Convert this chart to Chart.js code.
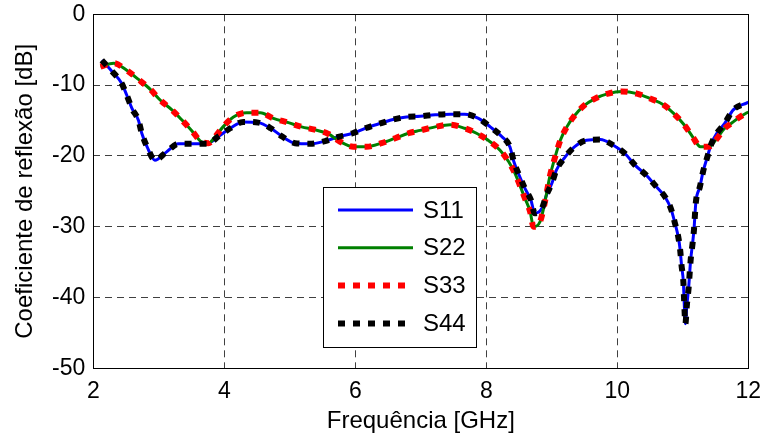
<!DOCTYPE html>
<html>
<head>
<meta charset="utf-8">
<script src="https://cdn.jsdelivr.net/npm/chart.js@4/dist/chart.umd.min.js"></script>
<style>
  html, body { margin: 0; padding: 0; background: #fff; }
</style>
</head>
<body>
<canvas id="myChart" width="763" height="440"></canvas>
<script>
// S11 / S44 curve (they overlap)
const freq11 = [2.13, 2.28, 2.43, 2.51, 2.59, 2.69, 2.74, 2.82, 2.94, 3.11, 3.30, 3.52, 3.73, 3.92, 4.09, 4.29,
  4.52, 4.71, 4.89, 5.08, 5.31, 5.54, 5.74, 5.96, 6.15, 6.35, 6.56, 6.78, 6.99, 7.22, 7.45, 7.67, 7.88,
  8.06, 8.24, 8.36, 8.42, 8.50, 8.59, 8.68, 8.74, 8.85, 8.92, 9.00, 9.07, 9.20, 9.35, 9.53, 9.74, 9.94,
  10.12, 10.27, 10.45, 10.60, 10.73, 10.82, 10.88, 10.93, 10.96, 10.98, 11.01, 11.02, 11.04, 11.06, 11.09,
  11.12, 11.15, 11.17, 11.20, 11.26, 11.31, 11.36, 11.44, 11.52, 11.64, 11.77, 11.98, 12.0];
const s11 = [-6.5, -8.0, -9.7, -11.4, -13.3, -15.0, -16.8, -18.7, -20.6, -19.5, -18.3, -18.3, -18.3, -17.2, -16.1, -15.2,
  -15.3, -16.1, -17.3, -18.2, -18.3, -17.9, -17.3, -16.8, -16.1, -15.5, -14.9, -14.5, -14.4, -14.2, -14.1, -14.1, -14.7,
  -15.9, -17.3, -18.7, -20.8, -22.7, -24.6, -26.2, -28.1, -27.4, -25.5, -23.9, -22.0, -20.2, -18.7, -17.8, -17.7, -18.5,
  -19.7, -21.3, -22.8, -24.4, -25.8, -27.5, -29.5, -31.4, -33.3, -35.4, -38.0, -40.4, -43.7, -41.3, -38.5,
  -34.7, -32.3, -30.5, -26.5, -24.4, -22.2, -20.6, -18.2, -16.8, -15.4, -13.5, -12.5, -12.4];
const s44 = s11.slice();

// S22 / S33 curve (they overlap)
const freq22 = [2.11, 2.31, 2.51, 2.69, 2.87, 3.02, 3.20, 3.35, 3.50, 3.65, 3.76, 3.86, 3.98, 4.14, 4.34, 4.55,
  4.75, 4.98, 5.18, 5.38, 5.59, 5.77, 5.97, 6.17, 6.40, 6.61, 6.81, 6.99, 7.22, 7.45, 7.67, 7.85, 8.03,
  8.21, 8.34, 8.44, 8.51, 8.59, 8.67, 8.72, 8.82, 8.87, 8.92, 8.97, 9.04, 9.13, 9.23, 9.33, 9.48, 9.66,
  9.86, 10.07, 10.30, 10.50, 10.71, 10.86, 11.02, 11.15, 11.27, 11.40, 11.50, 11.64, 11.77, 11.87, 11.98, 12.0];
const s22 = [-7.4, -6.9, -7.9, -9.2, -10.6, -12.1, -13.5, -14.9, -16.4, -18.0, -18.2, -17.3, -15.9, -14.5, -13.9, -13.9,
  -14.7, -15.3, -15.9, -16.3, -16.9, -18.0, -18.7, -18.7, -18.2, -17.5, -16.8, -16.4, -15.9, -15.6, -16.1, -16.8, -17.8,
  -19.2, -20.8, -22.5, -24.1, -26.0, -27.9, -30.0, -29.3, -27.6, -25.3, -22.9, -20.5, -17.8, -15.9, -14.5, -13.0, -11.9,
  -11.2, -10.9, -11.2, -11.9, -12.8, -14.0, -15.6, -17.3, -18.7, -18.7, -17.8, -16.1, -15.2, -14.5, -13.9, -13.8];
const s33 = s22.slice();

const xTicks = [2, 4, 6, 8, 10, 12];
const yTicks = [0, -10, -20, -30, -40, -50];
const seriesNames = ['S11', 'S22', 'S33', 'S44'];

const toPoints = (xs, ys) => xs.map((x, i) => ({ x: x, y: ys[i] }));

const FONT = 'Liberation Sans, Arial, sans-serif';

// box around the plot area + legend inside the plot
const frame = {
  id: 'frame',
  afterDraw(chart) {
    const c = chart.ctx;
    const a = chart.chartArea;
    c.save();
    c.strokeStyle = '#000';
    c.lineWidth = 1;
    c.setLineDash([]);
    c.strokeRect(Math.round(a.left) + 0.5, Math.round(a.top) + 0.5,
      Math.round(a.right - a.left), Math.round(a.bottom - a.top));

    // legend
    const lx = 323, ly = 187, lw = 153, lh = 160;
    c.fillStyle = '#fff';
    c.fillRect(lx, ly, lw, lh);
    c.strokeRect(lx + 0.5, ly + 0.5, lw, lh);
    c.font = '24px ' + FONT;
    c.textBaseline = 'middle';
    chart.data.datasets.forEach((ds, i) => {
      const y = 210 + i * 37.8;
      c.strokeStyle = ds.borderColor;
      c.lineWidth = ds.borderWidth;
      c.lineCap = 'butt';
      c.setLineDash(ds.borderDash || []);
      c.beginPath();
      c.moveTo(338, y);
      c.lineTo(413, y);
      c.stroke();
      c.fillStyle = '#000';
      c.fillText(ds.label, 423, y + 1);
    });
    c.restore();
  }
};

const ctx = document.getElementById('myChart').getContext('2d');

const data = {
  datasets: [
    {
      label: seriesNames[0],
      data: toPoints(freq11, s11),
      borderColor: '#0000ff',
      borderWidth: 3,
      order: 3,
    },
    {
      label: seriesNames[1],
      data: toPoints(freq22, s22),
      borderColor: '#008000',
      borderWidth: 3,
      order: 2,
    },
    {
      label: seriesNames[2],
      data: toPoints(freq22, s33),
      borderColor: '#ff0000',
      borderWidth: 6,
      borderDash: [7, 8],
      order: 1,
    },
    {
      label: seriesNames[3],
      data: toPoints(freq11, s44),
      borderColor: '#000000',
      borderWidth: 6,
      borderDash: [7, 8],
      order: 0,
    },
  ],
};

const config = {
  type: 'line',
  data: data,
  options: {
    responsive: false,
    animation: false,
    devicePixelRatio: 1,
    layout: { padding: { left: 0, right: 14.7, top: 14.3, bottom: 0 } },
    elements: {
      point: { radius: 0, hoverRadius: 0 },
      line: { cubicInterpolationMode: 'monotone', fill: false },
    },
    plugins: {
      legend: { display: false },
      tooltip: { enabled: false },
    },
    scales: {
      x: {
        type: 'linear',
        min: 2,
        max: 12,
        afterFit: (scale) => {
          scale.height = 71.7;
          scale.paddingLeft = 0;
          scale.paddingRight = 0;
        },
        afterBuildTicks: (scale) => { scale.ticks = xTicks.map(v => ({ value: v })); },
        grid: {
          color: 'rgba(0,0,0,0.75)',
          lineWidth: 1,
          drawTicks: false,
        },
        border: { display: false, dash: [7, 5] },
        ticks: {
          color: '#000',
          font: { family: FONT, size: 23 },
          padding: 10,
          maxRotation: 0,
        },
        title: {
          display: true,
          text: 'Frequência [GHz]',
          color: '#000',
          font: { family: FONT, size: 24 },
          padding: { top: 0, bottom: 4 },
        },
      },
      y: {
        min: -50,
        max: 0,
        afterFit: (scale) => {
          scale.width = 93.3;
          scale.paddingTop = 0;
          scale.paddingBottom = 0;
        },
        afterBuildTicks: (scale) => { scale.ticks = yTicks.map(v => ({ value: v })); },
        grid: {
          color: 'rgba(0,0,0,0.75)',
          lineWidth: 1,
          drawTicks: false,
        },
        border: { display: false, dash: [7, 5] },
        ticks: {
          color: '#000',
          font: { family: FONT, size: 23 },
          padding: 8,
        },
        title: {
          display: true,
          text: 'Coeficiente de reflexão [dB]',
          color: '#000',
          font: { family: FONT, size: 24 },
          padding: { top: 10.6, bottom: 0 },
        },
      },
    },
  },
  plugins: [frame],
};

const myChart = new Chart(ctx, config);
</script>
</body>
</html>
